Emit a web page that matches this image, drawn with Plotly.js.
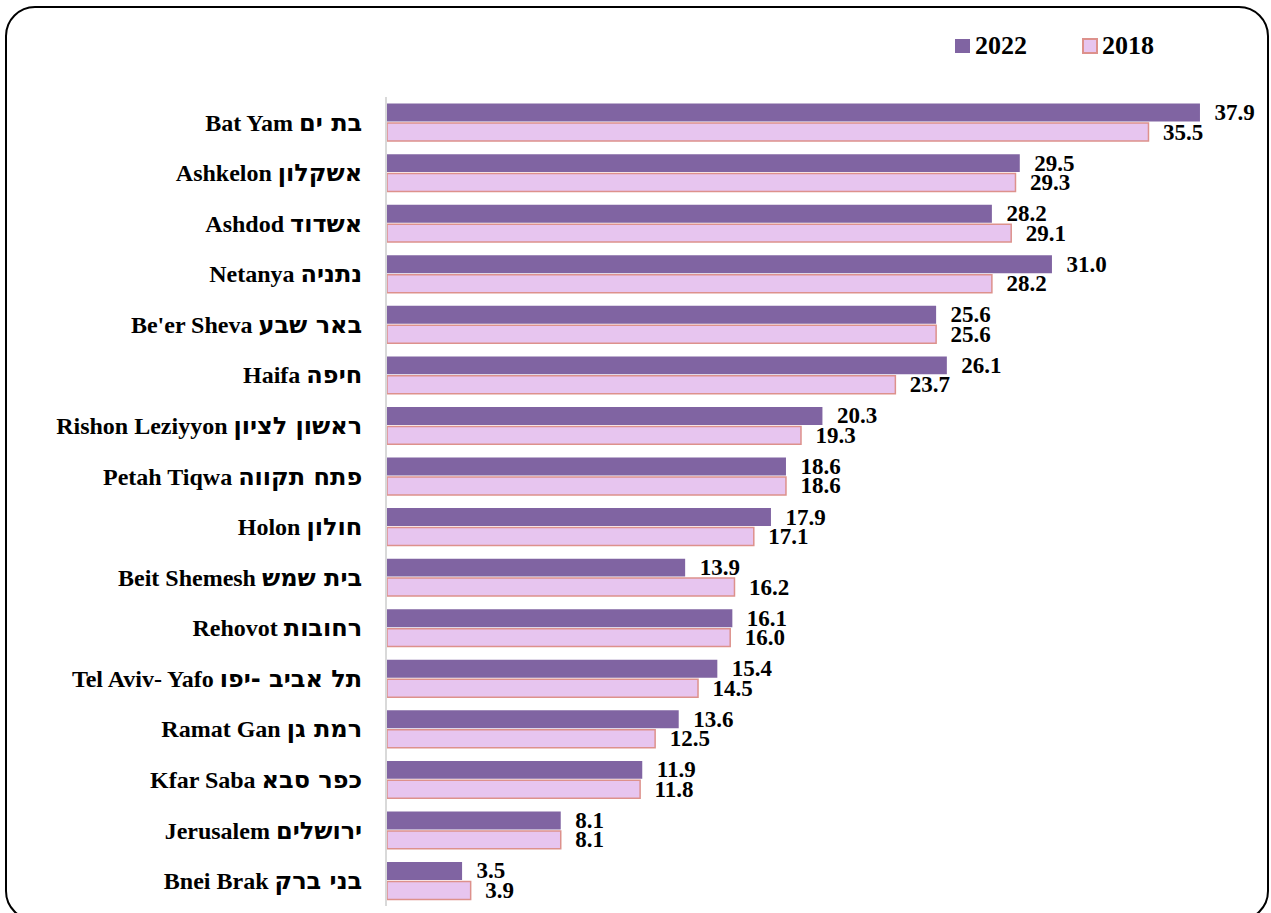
<!DOCTYPE html>
<html>
<head>
<meta charset="utf-8">
<script src="https://cdn.plot.ly/plotly-3.0.1.min.js"></script>
<style>
  html, body { margin: 0; padding: 0; background: #fff; }
  #wrap { position: relative; width: 1271px; height: 913px; overflow: hidden; }
  #chart { position: absolute; left: 0; top: 0; width: 1271px; height: 913px; }
  #frame { position: absolute; left: 5px; top: 6px; width: 1264px; height: 915px;
           box-sizing: border-box; border: 2px solid #000; border-radius: 30px; pointer-events: none; }
</style>
</head>
<body>
<div id="wrap">
  <div id="chart"></div>
  <div id="frame"></div>
</div>
<script>
const cities = [
  "Bat Yam בת ים",
  "Ashkelon אשקלון",
  "Ashdod אשדוד",
  "Netanya נתניה",
  "Be'er Sheva באר שבע",
  "Haifa חיפה",
  "Rishon Leziyyon ראשון לציון",
  "Petah Tiqwa פתח תקווה",
  "Holon חולון",
  "Beit Shemesh בית שמש",
  "Rehovot רחובות",
  "Tel Aviv- Yafo תל אביב -יפו",
  "Ramat Gan רמת גן",
  "Kfar Saba כפר סבא",
  "Jerusalem ירושלים",
  "Bnei Brak בני ברק"
];
const values2022 = [37.9, 29.5, 28.2, 31.0, 25.6, 26.1, 20.3, 18.6, 17.9, 13.9, 16.1, 15.4, 13.6, 11.9, 8.1, 3.5];
const values2018 = [35.5, 29.3, 29.1, 28.2, 25.6, 23.7, 19.3, 18.6, 17.1, 16.2, 16.0, 14.5, 12.5, 11.8, 8.1, 3.9];
const seriesNames = ["2022", "2018"];
const seriesColors = ["#8064A2", "#E7C5EF"];
const seriesBorders = ["#8064A2", "#DD918C"];

const FONT = "'Liberation Serif', 'Times New Roman', serif";
const HEB_FONT = "DejaVu Sans";

// tick labels: Hebrew part set in a font that has bold Hebrew glyphs
const tickText = cities.map(c => {
  const i = c.search(/[\u0590-\u05FF]/);
  if (i < 0) return c;
  return c.slice(0, i) + "<span style='font-family:" + HEB_FONT + ";font-weight:bold'>" + c.slice(i) + "</span>";
});

// plot area in pixels (for placing the custom legend)
const M = { l: 387, r: 26, t: 97, b: 7 };
const W = 1271, H = 913;
const PW = W - M.l - M.r, PH = H - M.t - M.b;
const px = x => (x - M.l) / PW;
const py = y => (H - M.b - y) / PH;

const traces = seriesNames.map((nm, i) => ({
  type: 'bar', orientation: 'h', name: nm,
  x: i === 0 ? values2022 : values2018, y: cities,
  marker: { color: seriesColors[i], line: { color: seriesBorders[i], width: i === 0 ? 0 : 1.5 } },
  texttemplate: '\u00a0\u00a0%{x:.1f}', textposition: 'outside',
  textfont: { family: FONT, size: 23, color: '#000', weight: 'bold' },
  constraintext: 'none', cliponaxis: false, hoverinfo: 'x+y'
}));

// legend (drawn as shapes + annotations)
const legendSquares = [[955, 970], [1083, 1097]];
const legendTextX = [973, 1100];
const shapes = seriesNames.map((nm, i) => ({
  type: 'rect', xref: 'paper', yref: 'paper',
  x0: px(legendSquares[i][0]), x1: px(legendSquares[i][1]),
  y0: py(53), y1: py(39),
  fillcolor: seriesColors[i], line: { color: seriesBorders[i], width: i === 0 ? 0 : 2 }
}));
const annotations = seriesNames.map((nm, i) => ({
  xref: 'paper', yref: 'paper', x: px(legendTextX[i]), y: py(46),
  xanchor: 'left', yanchor: 'middle', showarrow: false, text: nm,
  font: { family: FONT, size: 26, color: '#000', weight: 'bold' }
}));

const layout = {
  width: W, height: H,
  margin: M,
  paper_bgcolor: 'rgba(0,0,0,0)', plot_bgcolor: 'rgba(0,0,0,0)',
  font: { family: FONT, color: '#000' },
  barmode: 'group', bargap: 0.23, bargroupgap: 0.08,
  xaxis: { range: [0, 40], visible: false, showgrid: false, zeroline: false, fixedrange: true },
  yaxis: {
    type: 'category', autorange: 'reversed',
    tickmode: 'array', tickvals: cities, ticktext: tickText,
    showline: true, linecolor: '#D9D9D9', linewidth: 2, mirror: false,
    showgrid: false, zeroline: false, ticks: '',
    ticklabelstandoff: 18,
    tickfont: { family: FONT, size: 24, color: '#000', weight: 'bold' },
    fixedrange: true
  },
  showlegend: false,
  shapes: shapes,
  annotations: annotations
};

Plotly.newPlot('chart', traces, layout, { displayModeBar: false, staticPlot: true });
</script>
</body>
</html>
